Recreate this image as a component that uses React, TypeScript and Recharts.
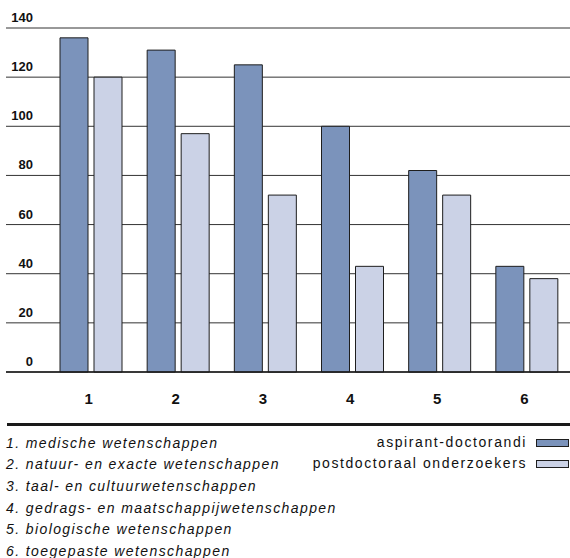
import React from "react";
import { BarChart, Bar, XAxis, YAxis, CartesianGrid } from "recharts";

const categories = ["1", "2", "3", "4", "5", "6"];
const aspirantDoctorandi = [136, 131, 125, 100, 82, 43];
const postdoctoraalOnderzoekers = [120, 97, 72, 43, 72, 38];
const yTicks = [0, 20, 40, 60, 80, 100, 120, 140];
const seriesNames = ["aspirant-doctorandi", "postdoctoraal onderzoekers"];
const footnotes = [
  "1. medische wetenschappen",
  "2. natuur- en exacte wetenschappen",
  "3. taal- en cultuurwetenschappen",
  "4. gedrags- en maatschappijwetenschappen",
  "5. biologische wetenschappen",
  "6. toegepaste wetenschappen",
];

const COLORS = ["#7b93bb", "#cbd2e6"];
const FONT = "'Liberation Sans', Arial, Helvetica, sans-serif";

const data = categories.map((c, i) => ({
  cat: c,
  a: aspirantDoctorandi[i],
  p: postdoctoraalOnderzoekers[i],
}));

const YTick = (props: any) => {
  const { y, payload } = props;
  return (
    <text
      x={33}
      y={y - 6}
      textAnchor="end"
      fontFamily={FONT}
      fontWeight="bold"
      fontSize={13}
      fill="#111"
    >
      {payload.value}
    </text>
  );
};

const XTick = (props: any) => {
  const { x, y, payload } = props;
  return (
    <text
      x={x - 2}
      y={y + 24}
      textAnchor="middle"
      fontFamily="'Liberation Sans Narrow', 'Arial Narrow', Arial, sans-serif"
      fontWeight="bold"
      fontSize={15}
      fill="#111"
    >
      {payload.value}
    </text>
  );
};

export default function App() {
  return (
    <div style={{ position: "absolute", left: 0, top: 0, width: 570, height: 558, background: "#fff" }}>
      <BarChart
        width={570}
        height={420}
        data={data}
        margin={{ top: 28, right: 0, bottom: 18, left: 0 }}
        barSize={28}
        barGap={6}
      >
        <CartesianGrid vertical={false} stroke="#333" strokeWidth={1} />
        <XAxis
          dataKey="cat"
          height={30}
          padding={{ left: 41, right: 0 }}
          axisLine={{ stroke: "#1a1a1a", strokeWidth: 1.5 }}
          tickLine={false}
          tick={<XTick />}
          interval={0}
        />
        <YAxis
          width={6}
          domain={[0, 140]}
          ticks={yTicks}
          axisLine={false}
          tickLine={false}
          tick={<YTick />}
          interval={0}
        />
        <Bar dataKey="a" name={seriesNames[0]} fill={COLORS[0]} stroke="#1e1e1e" strokeWidth={1} isAnimationActive={false} />
        <Bar dataKey="p" name={seriesNames[1]} fill={COLORS[1]} stroke="#1e1e1e" strokeWidth={1} isAnimationActive={false} />
      </BarChart>
      <div style={{ position: "absolute", left: 7, top: 423, width: 563, height: 3, background: "#1a1a1a" }} />
      <svg width={570} height={138} style={{ position: "absolute", left: 0, top: 420 }}>
        {footnotes.map((t, i) => (
          <text
            key={t}
            x={6}
            y={27.5 + i * 21.7}
            fontFamily={FONT}
            fontStyle="italic"
            fontSize={14}
            letterSpacing={1.4}
            fill="#111"
          >
            {t}
          </text>
        ))}
        {seriesNames.map((n, i) => (
          <g key={n}>
            <text
              x={527}
              y={27 + i * 21}
              textAnchor="end"
              fontFamily={FONT}
              fontSize={14}
              letterSpacing={1.6}
              fill="#111"
            >
              {n}
            </text>
            <rect x={536.5} y={19.5 + i * 21} width={32} height={7} fill={COLORS[i]} stroke="#1e1e1e" strokeWidth={1} />
          </g>
        ))}
      </svg>
    </div>
  );
}
